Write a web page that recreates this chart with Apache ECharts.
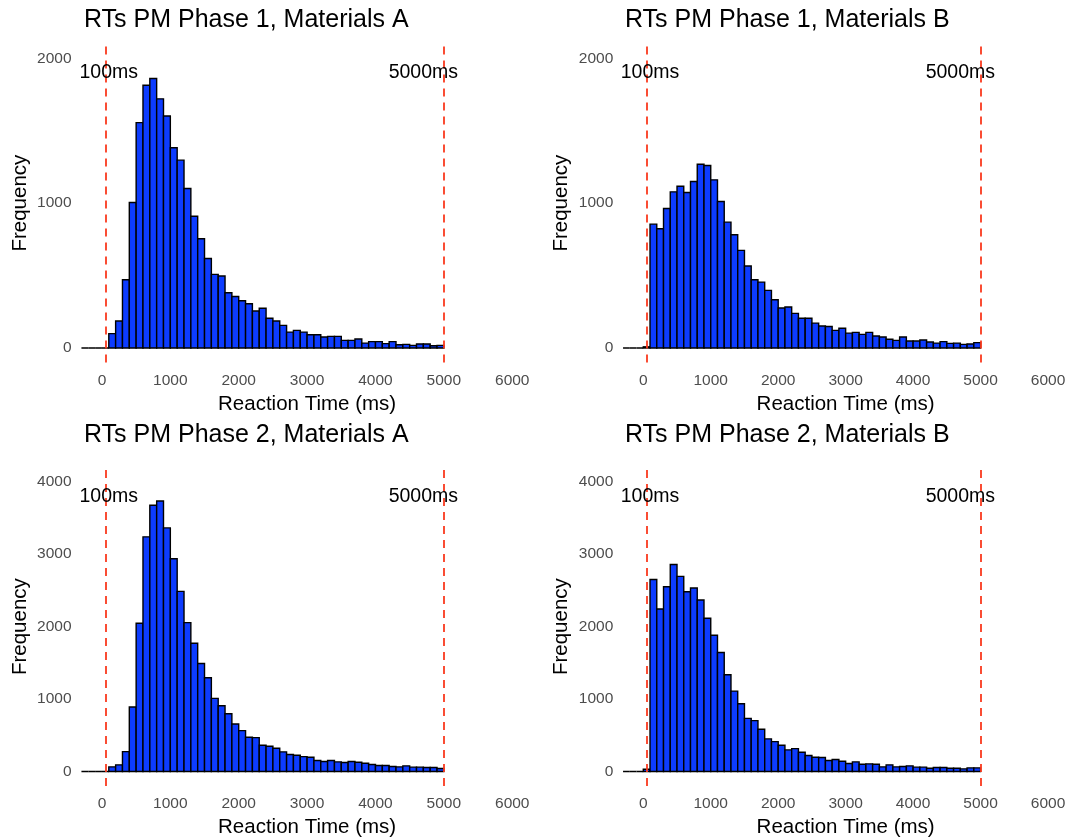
<!DOCTYPE html>
<html>
<head>
<meta charset="utf-8">
<script src="https://cdn.jsdelivr.net/npm/echarts@6/dist/echarts.min.js"></script>
<style>
  html, body { margin: 0; padding: 0; background: #fff; }
  #chart { width: 1078px; height: 839px; }
</style>
</head>
<body>
<div id="chart"></div>
<script>
// histogram bins (left edge, 100 ms wide)
const binStart = [-300, -200, -100, 0, 100, 200, 300, 400, 500, 600, 700, 800, 900,
  1000, 1100, 1200, 1300, 1400, 1500, 1600, 1700, 1800, 1900,
  2000, 2100, 2200, 2300, 2400, 2500, 2600, 2700, 2800, 2900,
  3000, 3100, 3200, 3300, 3400, 3500, 3600, 3700, 3800, 3900,
  4000, 4100, 4200, 4300, 4400, 4500, 4600, 4700, 4800, 4900];
const binWidth = 100;

// counts per bin
const phase1A = [0, 0, 0, 0, 99, 186, 471, 1005, 1556, 1814, 1860, 1720, 1602, 1382, 1297, 1101, 910,
  754, 618, 508, 497, 382, 356, 326, 306, 255, 274, 205, 186, 156, 110, 122, 110, 92, 92,
  76, 80, 80, 53, 53, 62, 34, 44, 44, 30, 44, 23, 25, 18, 28, 28, 16, 18];
const phase1B = [0, 0, 0, 8, 855, 823, 963, 1078, 1117, 1074, 1149, 1269, 1260, 1161, 1011, 869, 782,
  674, 566, 471, 455, 398, 333, 276, 283, 239, 205, 205, 172, 152, 149, 122, 136, 103, 108,
  94, 108, 83, 76, 60, 53, 76, 48, 48, 55, 41, 34, 44, 32, 34, 25, 28, 37];
const phase2A = [0, 0, 0, 0, 64, 92, 275, 890, 2046, 3239, 3674, 3734, 3362, 2936, 2486, 2055, 1771,
  1491, 1294, 1009, 908, 798, 656, 564, 472, 468, 362, 349, 321, 271, 234, 225, 206, 197, 151,
  138, 151, 133, 124, 138, 128, 115, 96, 83, 83, 69, 64, 78, 60, 60, 55, 55, 41];
const phase2B = [0, 0, 0, 32, 2651, 2243, 2550, 2858, 2693, 2482, 2532, 2367, 2115, 1881, 1642, 1335, 1110,
  936, 734, 702, 583, 450, 413, 362, 298, 316, 266, 220, 197, 193, 151, 165, 142, 110, 133,
  101, 106, 101, 64, 92, 64, 69, 78, 60, 60, 46, 55, 55, 46, 46, 37, 50, 50];

const titles = ['RTs PM Phase 1, Materials A', 'RTs PM Phase 1, Materials B',
  'RTs PM Phase 2, Materials A', 'RTs PM Phase 2, Materials B'];
const xTicks = [0, 1000, 2000, 3000, 4000, 5000, 6000];
const yTicksTop = [0, 1000, 2000];
const yTicksBottom = [0, 1000, 2000, 3000, 4000];

// cut-off lines and their labels
const cutoffs = [50, 5000];
const cutoffLabelX = [100, 4700];
const cutoffLabels = ['100ms', '5000ms'];
const labelYTop = 1900;
const labelYBottom = 3800;

const FONT = '"Liberation Sans", Arial, Helvetica, sans-serif';
const BAR_FILL = '#0d3cff';
const RED = '#fa3a1e';

const panels = [
  { counts: phase1A, left: 74.6, top: 43.8, height: 318.7, ymin: -100, ymax: 2100, yTicks: yTicksTop, labelY: labelYTop, titleLeft: 84, titleTop: 8 },
  { counts: phase1B, left: 616.3, top: 43.8, height: 318.7, ymin: -100, ymax: 2100, yTicks: yTicksTop, labelY: labelYTop, titleLeft: 625, titleTop: 8 },
  { counts: phase2A, left: 74.6, top: 467.2, height: 319.3, ymin: -200, ymax: 4200, yTicks: yTicksBottom, labelY: labelYBottom, titleLeft: 84, titleTop: 423 },
  { counts: phase2B, left: 616.3, top: 467.2, height: 319.3, ymin: -200, ymax: 4200, yTicks: yTicksBottom, labelY: labelYBottom, titleLeft: 625, titleTop: 423 }
];

function renderBar(params, api) {
  const p0 = api.coord([api.value(0), 0]);
  const p1 = api.coord([api.value(1), api.value(2)]);
  return {
    type: 'rect',
    shape: { x: p0[0], y: p1[1], width: p1[0] - p0[0], height: p0[1] - p1[1] },
    style: { fill: BAR_FILL, stroke: '#000', lineWidth: 1.4 }
  };
}

function renderLabel(params, api) {
  const p = api.coord([api.value(0), api.value(1)]);
  return {
    type: 'text',
    x: p[0],
    y: p[1],
    style: {
      text: cutoffLabels[params.dataIndex],
      fill: '#000',
      fontSize: 19.5,
      fontFamily: FONT,
      align: 'center',
      verticalAlign: 'middle'
    }
  };
}

const grid = [], xAxis = [], yAxis = [], series = [], title = [];

panels.forEach((p, i) => {
  grid.push({ left: p.left, top: p.top, width: 465, height: p.height });
  title.push({
    text: titles[i], left: p.titleLeft, top: p.titleTop, padding: 0,
    textStyle: { fontSize: 25, fontWeight: 'normal', color: '#000', fontFamily: FONT }
  });
  xAxis.push({
    type: 'value', gridIndex: i, min: -400, max: 6400, interval: 100,
    name: 'Reaction Time (ms)', nameLocation: 'middle', nameGap: 31,
    nameTextStyle: { fontSize: 20.5, color: '#000', fontFamily: FONT },
    axisLine: { show: false }, axisTick: { show: false }, splitLine: { show: false },
    axisLabel: {
      margin: 10, fontSize: 15.5, color: '#4d4d4d', fontFamily: FONT,
      formatter: v => (xTicks.includes(v) ? String(v) : '')
    }
  });
  yAxis.push({
    type: 'value', gridIndex: i, min: p.ymin, max: p.ymax, interval: 100,
    name: 'Frequency', nameLocation: 'middle', nameGap: 44,
    nameTextStyle: { fontSize: 20.5, color: '#000', fontFamily: FONT },
    axisLine: { show: false }, axisTick: { show: false }, splitLine: { show: false },
    axisLabel: {
      margin: 3, fontSize: 15.5, color: '#4d4d4d', fontFamily: FONT,
      formatter: v => (p.yTicks.includes(v) ? String(v) : '')
    }
  });
  series.push({
    type: 'custom', xAxisIndex: i, yAxisIndex: i,
    renderItem: renderBar, clip: false,
    encode: { x: [0, 1], y: 2 },
    data: binStart.map((s, k) => [s, s + binWidth, p.counts[k]]),
    markLine: {
      silent: true, symbol: 'none', label: { show: false },
      lineStyle: { color: RED, type: [8, 6], width: 1.8 },
      data: cutoffs.map(c => ({ xAxis: c }))
    },
    z: 2
  });
  series.push({
    type: 'custom', xAxisIndex: i, yAxisIndex: i,
    renderItem: renderLabel, clip: false,
    encode: { x: 0, y: 1 },
    data: cutoffLabelX.map(x => [x, p.labelY]),
    z: 5
  });
});

const chart = echarts.init(document.getElementById('chart'), null, { renderer: 'canvas' });
chart.setOption({
  animation: false,
  backgroundColor: '#fff',
  title, grid, xAxis, yAxis, series
});
</script>
</body>
</html>
